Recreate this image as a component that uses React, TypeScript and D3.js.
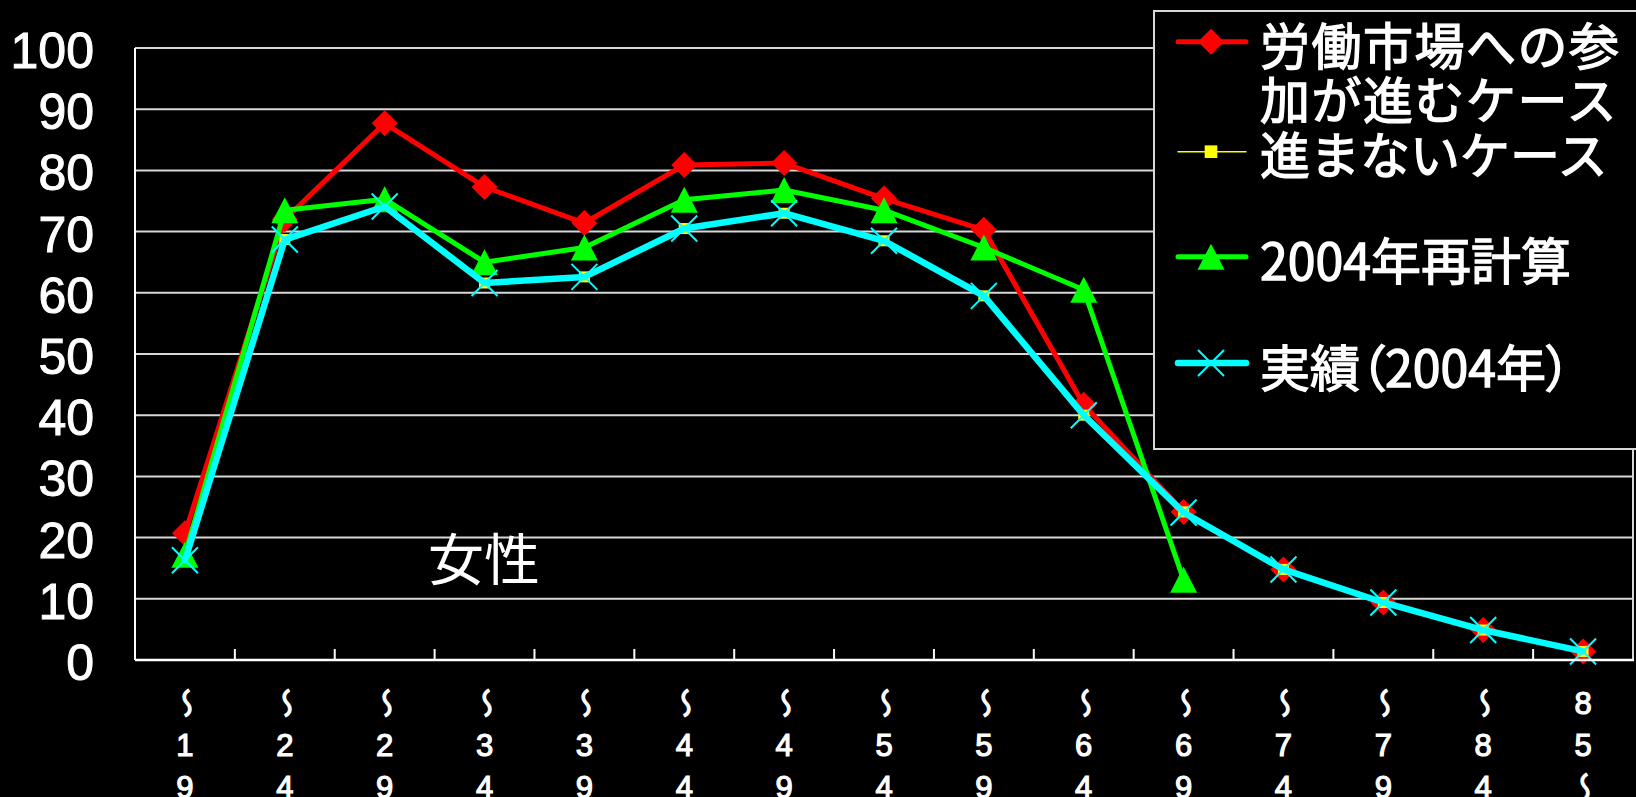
import React from 'react';
import * as d3 from 'd3';

// Age-group categories (labels written vertically under the axis)
const categories = ['～19', '～24', '～29', '～34', '～39', '～44', '～49', '～54', '～59', '～64', '～69', '～74', '～79', '～84', '85～'];

// Labour force participation rate (%), women
const advancedCase = [20.7, 72.0, 87.7, 77.3, 71.4, 80.9, 81.2, 75.4, 70.3, 41.7, 24.2, 14.8, 9.4, 4.9, 1.4];
const slowCase = [16.3, 68.7, 74.1, 61.6, 62.6, 70.5, 73.0, 68.5, 59.5, 40.0, 24.2, 14.8, 9.4, 4.9, 1.4];
const recalc2004 = [17.2, 73.5, 75.3, 65.0, 67.4, 75.2, 76.8, 73.5, 67.4, 60.5, 13.1];
const actual2004 = [16.3, 68.7, 74.1, 61.6, 62.6, 70.5, 73.0, 68.5, 59.5, 40.0, 24.1, 14.8, 9.4, 4.9, 1.4];

const yTicks = [0, 10, 20, 30, 40, 50, 60, 70, 80, 90, 100];

const seriesNames = ['労働市場への参\n加が進むケース', '進まないケース', '2004年再計算', '実績（2004年）'];

const W = 1636;
const H = 797;
const plot = { left: 135, right: 1633, top: 48, bottom: 660 };

const JP = '"Noto Sans CJK JP", "Noto Sans", sans-serif';
const NUM = '"Liberation Sans", Arial, sans-serif';

type Marker = 'diamond' | 'square' | 'triangle' | 'cross';

function MarkerShape({ kind, x, y, color, size = 1 }: { kind: Marker; x: number; y: number; color: string; size?: number }) {
  if (kind === 'diamond') {
    const r = 13 * size;
    return <path d={`M${x},${y - r}L${x + r},${y}L${x},${y + r}L${x - r},${y}Z`} fill={color} />;
  }
  if (kind === 'square') {
    const s = 11 * size;
    return <rect x={x - s / 2} y={y - s / 2} width={s} height={s} fill={color} />;
  }
  if (kind === 'triangle') {
    const w = 27 * size;
    const h = 26 * size;
    return <path d={`M${x},${y - h / 2}L${x + w / 2},${y + h / 2}L${x - w / 2},${y + h / 2}Z`} fill={color} />;
  }
  const r = 13 * size;
  return (
    <path
      d={`M${x - r},${y - r}L${x + r},${y + r}M${x - r},${y + r}L${x + r},${y - r}`}
      stroke={color}
      strokeWidth={2}
      fill="none"
    />
  );
}

export default function App() {
  const x = d3.scaleBand<string>().domain(categories).range([plot.left, plot.right]).padding(0);
  const y = d3.scaleLinear().domain([0, 100]).range([plot.bottom, plot.top]);
  const cx = (i: number) => (x(categories[i]) as number) + x.bandwidth() / 2;

  const series = [
    { name: seriesNames[0], values: advancedCase, color: '#ff0000', width: 5, marker: 'diamond' as Marker },
    { name: seriesNames[1], values: slowCase, color: '#ffff00', width: 1.5, marker: 'square' as Marker },
    { name: seriesNames[2], values: recalc2004, color: '#00ff00', width: 5, marker: 'triangle' as Marker },
    { name: seriesNames[3], values: actual2004, color: '#00ffff', width: 6.5, marker: 'cross' as Marker },
  ];

  const line = d3
    .line<number>()
    .x((_, i) => cx(i))
    .y((d) => y(d));

  // Legend rows: symbol line y and text line centres
  const legendRows = [
    { lineY: 41.7, textY: [43, 97] },
    { lineY: 151.7, textY: [152] },
    { lineY: 256.7, textY: [258] },
    { lineY: 363, textY: [365] },
  ];

  const tickXs = categories.slice(1).map((c) => x(c) as number);
  const labelRows = [703, 745, 787];

  return (
    <svg
      width={W}
      height={H}
      style={{ position: 'absolute', left: 0, top: 0, background: '#000', display: 'block' }}
    >
      <rect x={0} y={0} width={W} height={H} fill="#000" />

      {/* gridlines */}
      {yTicks.slice(1).map((t) => (
        <line key={t} x1={plot.left} x2={plot.right} y1={y(t)} y2={y(t)} stroke="#d8d8d8" strokeWidth={2} />
      ))}
      {/* right border of plot area */}
      <line x1={plot.right} x2={plot.right} y1={plot.top} y2={plot.bottom} stroke="#d8d8d8" strokeWidth={2} />

      {/* y axis labels */}
      {yTicks.map((t) => (
        <text
          key={t}
          x={94}
          y={y(t) + 20}
          textAnchor="end"
          fill="#fff"
          stroke="#fff"
          strokeWidth={1}
          fontFamily={NUM}
          fontSize={50}
        >
          {t}
        </text>
      ))}

      {/* series */}
      {series.map((s) => (
        <g key={s.name}>
          <path
            d={line(s.values) as string}
            fill="none"
            stroke={s.color}
            strokeWidth={s.width}
            strokeLinejoin="round"
            strokeLinecap="round"
          />
          {s.values.map((v, i) => (
            <MarkerShape key={i} kind={s.marker} x={cx(i)} y={y(v)} color={s.color} />
          ))}
        </g>
      ))}

      {/* axes */}
      <line x1={plot.left} x2={plot.left} y1={plot.top} y2={plot.bottom} stroke="#fff" strokeWidth={2} />
      <line x1={plot.left} x2={plot.right + 1} y1={plot.bottom} y2={plot.bottom} stroke="#fff" strokeWidth={2.5} />
      {tickXs.map((tx, i) => (
        <line key={i} x1={tx} x2={tx} y1={plot.bottom} y2={plot.bottom - 11} stroke="#fff" strokeWidth={2} />
      ))}

      {/* category labels, stacked vertically; the wave dash is turned upright */}
      {categories.map((c, i) =>
        Array.from(c).map((ch, k) =>
          ch === '～' ? (
            <text
              key={`${i}-${k}`}
              transform={`translate(${cx(i)},${labelRows[k]}) scale(-1,1) rotate(90)`}
              textAnchor="middle"
              dominantBaseline="central"
              fill="#fff"
              stroke="#fff"
              strokeWidth={1.2}
              fontFamily={JP}
              fontSize={30}
            >
              〜
            </text>
          ) : (
            <text
              key={`${i}-${k}`}
              x={cx(i)}
              y={labelRows[k] + 11}
              textAnchor="middle"
              fill="#fff"
              stroke="#fff"
              strokeWidth={1.2}
              fontFamily={NUM}
              fontSize={31}
            >
              {ch}
            </text>
          )
        )
      )}

      {/* panel title */}
      <text x={428} y={555} dominantBaseline="central" fill="#fff" fontFamily={JP} fontSize={56}>
        女性
      </text>

      {/* legend */}
      <rect x={1154} y={11} width={500} height={438} fill="#000" stroke="#d8d8d8" strokeWidth={2} />
      {series.map((s, i) => {
        const row = legendRows[i];
        return (
          <g key={s.name}>
            <line
              x1={1178}
              x2={1246}
              y1={row.lineY}
              y2={row.lineY}
              stroke={s.color}
              strokeWidth={s.width}
              strokeLinecap="round"
            />
            <MarkerShape
              kind={s.marker}
              x={1211}
              y={row.lineY}
              color={s.color}
              size={s.marker === 'square' ? 1.15 : 1}
            />
            {s.name.split('\n').map((t, k) => (
              <text
                key={k}
                x={1260}
                y={row.textY[k]}
                dominantBaseline="central"
                fill="#fff"
                stroke="#fff"
                strokeWidth={1.3}
                fontFamily={JP}
                fontSize={50}
                letterSpacing={i === 0 ? 1.5 : 0}
                style={i === 3 ? { fontFeatureSettings: '"palt"' } : undefined}
              >
                {t}
              </text>
            ))}
          </g>
        );
      })}
    </svg>
  );
}
